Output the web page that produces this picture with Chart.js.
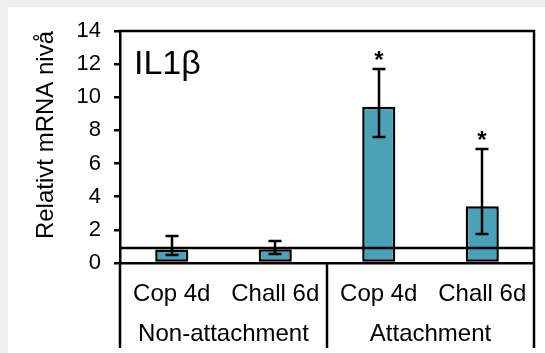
<!DOCTYPE html>
<html>
<head>
<meta charset="utf-8">
<script src="https://cdn.jsdelivr.net/npm/chart.js@4"></script>
<style>
  html, body { margin: 0; padding: 0; background: #eeeeee; }
  #c { display: block; }
</style>
</head>
<body>
<canvas id="c" width="545" height="353"></canvas>
<script>
// ---- data ----
const categories = ['Cop 4d', 'Chall 6d', 'Cop 4d', 'Chall 6d'];
const groups = ['Non-attachment', 'Attachment'];
const groupSizes = [2, 2];
const means = [0.81, 0.83, 9.43, 3.43];
const errUpper = [1.63, 1.31, 11.69, 6.85];
const errLower = [0.46, 0.57, 7.60, 1.72];
const significant = [false, false, true, true];
const referenceLevel = 0.9;
const yTicks = [0, 2, 4, 6, 8, 10, 12, 14];
const panelTitle = 'IL1β';
const yTitle = 'Relativt mRNA nivå';

const FONT = '"Liberation Sans", Arial, sans-serif';
const BAR_COLOR = '#4BA1B7';
const LW = 2.5;

const decorPlugin = {
  id: 'decor',
  beforeDraw(chart) {
    const ctx = chart.ctx;
    ctx.save();
    ctx.fillStyle = '#eeeeee';
    ctx.fillRect(0, 0, chart.width, chart.height);
    ctx.fillStyle = '#ffffff';
    ctx.fillRect(8, 7, chart.width - 8, chart.height - 7);
    ctx.restore();
  },
  afterDatasetsDraw(chart) {
    const ctx = chart.ctx;
    const x = chart.scales.x, y = chart.scales.y;
    const area = chart.chartArea;
    ctx.save();
    ctx.strokeStyle = '#000';
    ctx.lineWidth = LW;
    // reference line
    const yr = Math.round(y.getPixelForValue(referenceLevel));
    ctx.beginPath();
    ctx.moveTo(area.left, yr);
    ctx.lineTo(area.right, yr);
    ctx.stroke();
    // error bars
    const cap = 6.5;
    means.forEach((m, i) => {
      const cx = Math.round(x.getPixelForValue(i));
      const yt = Math.round(y.getPixelForValue(errUpper[i]));
      const yb = Math.round(y.getPixelForValue(errLower[i]));
      ctx.beginPath();
      ctx.moveTo(cx, yt); ctx.lineTo(cx, yb);
      ctx.moveTo(cx - cap, yt); ctx.lineTo(cx + cap, yt);
      ctx.moveTo(cx - cap, yb); ctx.lineTo(cx + cap, yb);
      ctx.stroke();
      if (significant[i]) {
        ctx.fillStyle = '#000';
        ctx.font = 'bold 24px ' + FONT;
        ctx.textAlign = 'center';
        ctx.textBaseline = 'middle';
        ctx.fillText('*', cx, yt - 8);
      }
    });
    // frame top and right
    ctx.beginPath();
    ctx.moveTo(area.left - 1, area.top);
    ctx.lineTo(area.right, area.top);
    ctx.lineTo(area.right, area.bottom);
    ctx.stroke();
    // panel title
    ctx.fillStyle = '#000';
    ctx.font = '34px ' + FONT;
    ctx.textAlign = 'left';
    ctx.textBaseline = 'alphabetic';
    ctx.fillText(panelTitle, area.left + 14, area.top + 43);
    // group separators and labels
    const bottomY = 348;
    let start = 0;
    const bounds = [area.left];
    groupSizes.forEach((n, gi) => {
      const end = start + n - 1;
      const left = gi === 0 ? area.left : (x.getPixelForValue(start - 1) + x.getPixelForValue(start)) / 2;
      const right = gi === groupSizes.length - 1 ? area.right : (x.getPixelForValue(end) + x.getPixelForValue(end + 1)) / 2;
      bounds.push(right);
      ctx.font = '24px ' + FONT;
      ctx.textAlign = 'center';
      ctx.textBaseline = 'middle';
      ctx.fillText(groups[gi], (left + right) / 2, 334);
      start += n;
    });
    ctx.beginPath();
    bounds.forEach(b => {
      const bx = Math.round(b);
      ctx.moveTo(bx, area.bottom);
      ctx.lineTo(bx, bottomY);
    });
    ctx.stroke();
    ctx.restore();
  }
};

new Chart(document.getElementById('c'), {
  type: 'bar',
  data: {
    labels: categories,
    datasets: [{
      data: means,
      backgroundColor: BAR_COLOR,
      borderColor: '#000',
      borderWidth: LW,
      borderSkipped: false,
      barPercentage: 0.32,
      categoryPercentage: 1.0
    }]
  },
  options: {
    responsive: false,
    animation: false,
    devicePixelRatio: 1,
    layout: { padding: { left: 0, top: 31, right: 11, bottom: 0 } },
    plugins: { legend: { display: false }, tooltip: { enabled: false } },
    scales: {
      x: {
        afterFit(s) { s.height = 90; },
        grid: { display: false },
        border: { display: true, color: '#000', width: LW },
        ticks: { color: '#000', font: { family: FONT, size: 24 }, padding: 9, maxRotation: 0 }
      },
      y: {
        min: 0, max: 14,
        afterFit(s) { s.width = 120; },
        afterBuildTicks(s) { s.ticks = yTicks.map(v => ({ value: v })); },
        grid: { display: true, drawOnChartArea: false, drawTicks: true, tickLength: 6, color: '#000', lineWidth: LW },
        border: { display: true, color: '#000', width: LW },
        ticks: { color: '#000', font: { family: FONT, size: 22 }, padding: 13 },
        title: { display: true, text: yTitle, color: '#000', align: 'end', font: { family: FONT, size: 24 }, padding: { top: 32, bottom: 0 } }
      }
    }
  },
  plugins: [decorPlugin]
});
</script>
</body>
</html>
